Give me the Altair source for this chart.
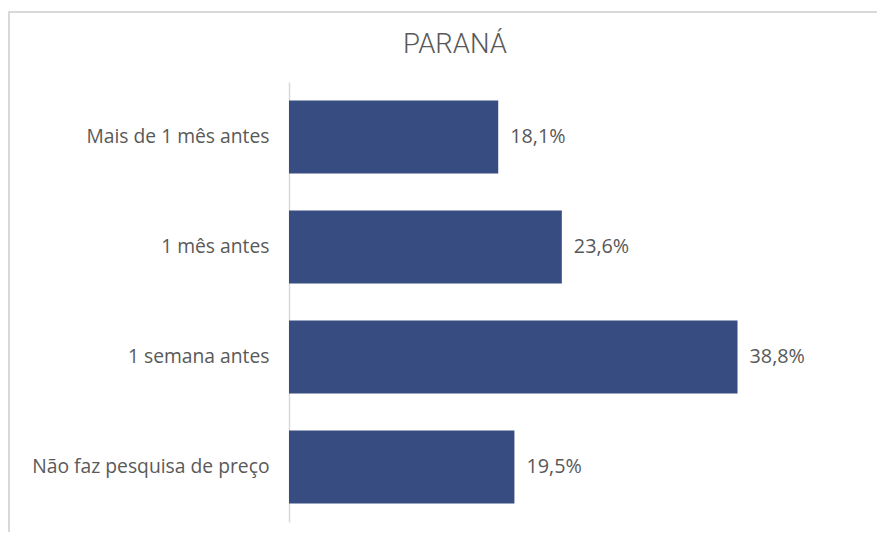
import altair as alt
import pandas as pd

categories = ["Mais de 1 mês antes", "1 mês antes", "1 semana antes", "Não faz pesquisa de preço"]
values = [18.1, 23.6, 38.8, 19.5]
labels = ["18,1%", "23,6%", "38,8%", "19,5%"]
title_text = ["PARANÁ"]

df = pd.DataFrame({"cat": categories, "val": values, "lab": labels})
tdf = pd.DataFrame({"t": title_text})

FONT = "Open Sans"
GREY = "#595959"

y_enc = alt.Y("cat:N", sort=categories, title=None,
              scale=alt.Scale(paddingInner=0.336, paddingOuter=0.168),
              axis=alt.Axis(ticks=False, labelPadding=20, labelFontSize=19.3,
                            labelColor=GREY, labelFont=FONT, domainColor="#d9d9d9",
                            domainWidth=1.5, labelLimit=300))
x_enc = alt.X("val:Q", title=None, scale=alt.Scale(domain=[0, 50]), axis=None)

bars = alt.Chart(df).mark_bar(color="#374C80").encode(x=x_enc, y=y_enc)
text = alt.Chart(df).mark_text(align="left", baseline="middle", dx=12, fontSize=19.8,
                               color=GREY, font=FONT).encode(x=x_enc, y=y_enc, text="lab:N")

title = alt.Chart(tdf).mark_text(align="center", baseline="middle", fontSize=27.5,
                                 font="Roboto", fontWeight=300, color=GREY).encode(
    x=alt.value(166), y=alt.value(-37), text="t:N")

frame_top = alt.Chart(tdf).mark_rule(color="#d9d9d9", strokeWidth=2).encode(
    x=alt.value(-284), x2=alt.value(610), y=alt.value(-70))
frame_left = alt.Chart(tdf).mark_rule(color="#d9d9d9", strokeWidth=2).encode(
    x=alt.value(-280), y=alt.value(-70), y2=alt.value(460))

chart = alt.layer(frame_top, frame_left, title, bars, text).properties(
    width=578, height=440,
    autosize=alt.AutoSizeParams(type="none"),
    padding={"left": 281, "top": 74, "right": 10, "bottom": 10},
).configure_view(stroke=None)

chart.save("out.html", embed_options={"renderer": "svg", "actions": False})
